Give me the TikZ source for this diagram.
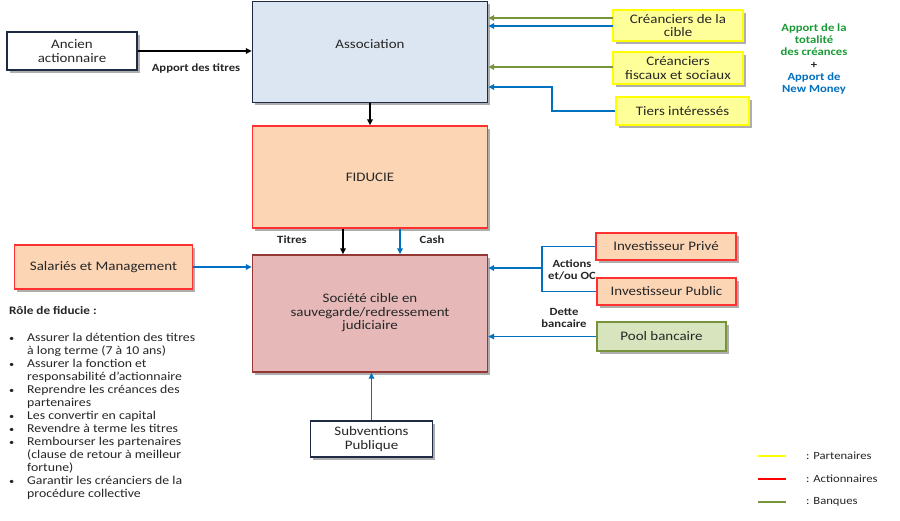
\documentclass[tikz,border=0pt]{standalone}
\usepackage{fontspec}
\setmainfont{Carlito}[FakeStretch=1.15]
\usetikzlibrary{arrows.meta,calc,shadows}
\definecolor{assocfill}{HTML}{DCE6F2}
\definecolor{assocdraw}{HTML}{1F2A44}
\definecolor{peach}{HTML}{FCD5B5}
\definecolor{redb}{HTML}{FF3030}
\definecolor{rosefill}{HTML}{E6B9B8}
\definecolor{rosedraw}{HTML}{953735}
\definecolor{yelfill}{HTML}{FFFF99}
\definecolor{yeldraw}{HTML}{FFFF00}
\definecolor{greenfill}{HTML}{D7E4BD}
\definecolor{olive}{HTML}{77933C}
\definecolor{bluea}{HTML}{0070C0}
\definecolor{greent}{HTML}{1A9A35}
\definecolor{txt}{HTML}{262626}
\tikzset{
  box/.style={draw, line width=1.4pt, inner sep=2pt, align=center, text=txt,
    font=\fontsize{13}{13.5}\selectfont,
    drop shadow={shadow xshift=2.5pt, shadow yshift=-2.5pt, opacity=0.45, fill=black!70}},
  btext/.style={align=center, text=txt, font=\fontsize{13}{13.5}\selectfont, inner sep=0pt},
  whitebox/.style={box, fill=white, draw=assocdraw},
  peachbox/.style={box, fill=peach, draw=redb},
  yelbox/.style={box, fill=yelfill, draw=yeldraw},
  arr/.style={-{Triangle[length=6pt,width=5.5pt]}},
  barr/.style={arr, draw=bluea, line width=1.7pt},
  garr/.style={arr, draw=olive, line width=1.7pt},
  karr/.style={arr, draw=black, line width=1.7pt},
  lbl/.style={font=\bfseries\fontsize{11}{12}\selectfont, text=txt, align=center, inner sep=0pt},
  lst/.style={font=\fontsize{12}{13}\selectfont, text=txt, align=left, anchor=north west, inner sep=0pt},
  leg/.style={line width=2.2pt},
  legt/.style={font=\fontsize{11}{12}\selectfont, text=txt, anchor=west, inner sep=0pt}
}
\newcommand{\blt}{{\fontsize{9}{13}\selectfont\textbullet}}
\begin{document}
\begin{tikzpicture}[x=1pt,y=-1pt]
\useasboundingbox[fill=white] (0,0) rectangle (900,520);
% main boxes
\node[box, fill=assocfill, draw=assocdraw, minimum width=235pt, minimum height=101pt] (assoc) at (370,52) {};
\node[btext] (assoct) at (370,44) {Association};
\node[whitebox, minimum width=130pt, minimum height=38pt] (ancien) at (72,51) {Ancien\\actionnaire};
\node[peachbox, minimum width=235pt, minimum height=102pt] (fid) at (370,177) {FIDUCIE};
\node[box, fill=rosefill, draw=rosedraw, minimum width=235pt, minimum height=117pt] (soc) at (370,313.5) {};
\node[btext] (soct) at (370,313) {Société cible en\\sauvegarde/redressement\\judiciaire};
\node[peachbox, minimum width=178pt, minimum height=44pt] (sal) at (103.5,267) {Salariés et Management};
\node[whitebox, minimum width=122pt, minimum height=36pt] (subv) at (371.5,439) {Subventions\\Publique};
% creditors
\node[yelbox, minimum width=130pt, minimum height=31pt] (ccible) at (678,25.5) {Créanciers de la\\cible};
\node[yelbox, minimum width=130pt, minimum height=32pt] (cfisc) at (678,68) {Créanciers\\fiscaux et sociaux};
\node[yelbox, minimum width=133pt, minimum height=28pt] (tiers) at (682.5,111) {Tiers intéressés};
% investors
\node[peachbox, minimum width=140pt, minimum height=27pt] (iprive) at (666,246.5) {Investisseur Privé};
\node[peachbox, minimum width=139pt, minimum height=27pt] (ipublic) at (666.5,291.5) {Investisseur Public};
\node[box, fill=greenfill, draw=olive, minimum width=129pt, minimum height=29pt] (pool) at (661.5,336.5) {Pool bancaire};
% connectors
\draw[karr] (ancien.east) -- (ancien.east -| assoc.west);
\node[lbl] (lapport) at (196,68) {Apport des titres};
\coordinate (c1) at (613,18);
\coordinate (c2) at (613,26);
\coordinate (c3) at (613,67);
\draw[garr] (c1) -- (c1 -| assoc.east);
\draw[barr] (c2) -- (c2 -| assoc.east);
\draw[garr] (c3) -- (c3 -| assoc.east);
\coordinate (tk1) at (552,111);
\coordinate (tk2) at (552,87);
\draw[barr] (tiers.west) -- (tk1) -- (tk2) -- (tk2 -| assoc.east);
\draw[karr] (assoc.south) -- (fid.north);
\coordinate (tit) at (343,0);
\coordinate (cash) at (400,0);
\draw[karr] (tit |- fid.south) -- (tit |- soc.north);
\draw[barr] (cash |- fid.south) -- (cash |- soc.north);
\node[lbl] (ltit) at (292,240) {Titres};
\node[lbl] (lcash) at (432,240) {Cash};
\draw[barr] (sal.east) -- (sal.east -| soc.west);
\coordinate (ik1) at (542,246.5);
\coordinate (ik2) at (542,291.5);
\coordinate (ik3) at (542,268);
\draw[bluea, line width=1.7pt] (iprive.west) -- (ik1) -- (ik2) -- (ipublic.west);
\draw[barr] (ik3) -- (ik3 -| soc.east);
\node[lbl] (lact) at (572,270) {Actions\\et/ou OC};
\draw[barr] (pool.west) -- (pool.west -| soc.east);
\node[lbl] (ldette) at (564,318) {Dette\\bancaire};
\draw[barr] (subv.north) -- (subv.north |- soc.south);
% right text
\node[lbl, text=greent] (lapp1) at (814,40) {Apport de la\\totalité\\des créances};
\node[lbl] (lplus) at (814,65) {+};
\node[lbl, text=bluea] (lapp2) at (814,84) {Apport de\\New Money};
% role de fiducie
\node[lst, font=\bfseries\fontsize{11.5}{13}\selectfont] (role) at (9,306) {Rôle de fiducie :};
\node[lst] (liste) at (9,332) {%
\begin{tabular}{@{}p{18pt}@{}l@{}}
\blt & Assurer la détention des titres\\
 & à long terme (7 à 10 ans)\\
\blt & Assurer la fonction et\\
 & responsabilité d’actionnaire\\
\blt & Reprendre les créances des\\
 & partenaires\\
\blt & Les convertir en capital\\
\blt & Revendre à terme les titres\\
\blt & Rembourser les partenaires\\
 & (clause de retour à meilleur\\
 & fortune)\\
\blt & Garantir les créanciers de la\\
 & procédure collective
\end{tabular}};
% legend
\coordinate (g1a) at (758,456); \coordinate (g1b) at (786,456);
\coordinate (g2a) at (758,479); \coordinate (g2b) at (786,479);
\coordinate (g3a) at (758,502); \coordinate (g3b) at (786,502);
\draw[leg, yeldraw] (g1a) -- (g1b);
\draw[leg, red] (g2a) -- (g2b);
\draw[leg, olive] (g3a) -- (g3b);
\node[legt] (lg1) at (806,456) {: Partenaires};
\node[legt] (lg2) at (806,479) {: Actionnaires};
\node[legt] (lg3) at (806,502) {: Banques};
\end{tikzpicture}
\end{document}
